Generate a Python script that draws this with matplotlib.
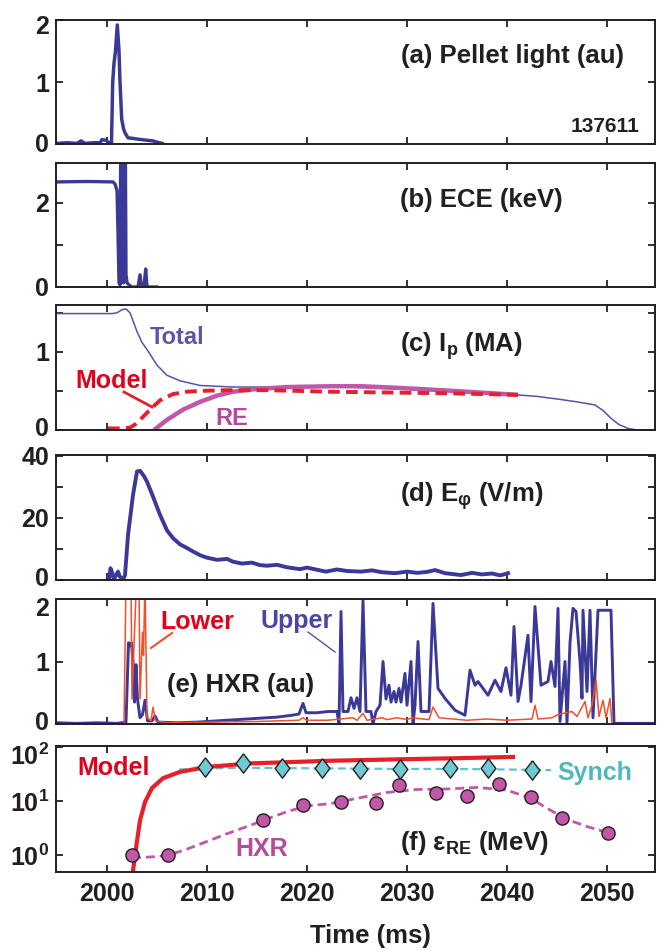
import matplotlib
matplotlib.use('Agg')
import matplotlib.pyplot as plt
from matplotlib.lines import Line2D
from matplotlib.ticker import NullLocator
from matplotlib.transforms import ScaledTranslation

plt.rcParams['font.family'] = ['Liberation Sans', 'DejaVu Sans']
plt.rcParams['font.weight'] = 'bold'
plt.rcParams['mathtext.fontset'] = 'custom'
plt.rcParams['mathtext.rm'] = 'Liberation Sans:bold'
plt.rcParams['mathtext.it'] = 'Liberation Sans:bold'
plt.rcParams['mathtext.bf'] = 'Liberation Sans:bold'
plt.rcParams['mathtext.sf'] = 'Liberation Sans:bold'

# ---------------- data ----------------
x_ticks = [2000, 2010, 2020, 2030, 2040, 2050]
x_tick_labels = ['2000', '2010', '2020', '2030', '2040', '2050']

# (a) pellet light
pellet_t = [1995.0, 1996.0, 1997.0, 1997.4, 1997.8, 1998.6, 1999.3, 1999.5, 1999.9, 2000.2,
            2000.45, 2000.57, 2000.7, 2000.85, 2001.03, 2001.2, 2001.3, 2001.47, 2001.65, 2001.8,
            2002.1, 2002.6, 2003.0, 2003.5, 2004.0, 2004.6, 2005.0, 2005.5]
pellet_v = [0.01, 0.02, 0.01, 0.05, 0.01, 0.02, 0.02, 0.07, 0.06, 0.02,
            0.02, 1.0, 1.3, 1.5, 1.92, 1.5, 1.0, 0.4, 0.25, 0.18,
            0.1, 0.09, 0.08, 0.07, 0.06, 0.05, 0.03, 0.01]

# (b) ECE
ece_t = [1995.0, 1998.0, 2000.6, 2000.8, 2001.0, 2001.1, 2001.2, 2001.3, 2001.37, 2001.42,
         2001.48, 2001.54, 2001.6, 2001.66, 2001.72, 2001.78, 2001.84, 2001.9, 2002.0, 2002.2,
         2002.5, 2003.1, 2003.3, 2003.45, 2003.7, 2003.87, 2004.0, 2004.5, 2005.0]
ece_v = [2.5, 2.51, 2.5, 2.45, 2.3, 1.3, 0.1, 0.05, 3.2, 0.1,
         3.2, 0.15, 3.2, 0.1, 3.2, 0.2, 3.2, 0.3, 0.1, 0.05,
         0.0, 0.0, 0.29, 0.02, 0.0, 0.43, 0.0, 0.0, 0.0]

# (c) plasma current
total_t = [1995.0, 1998.0, 2000.5, 2001.0, 2001.5, 2001.9, 2002.3, 2003.0, 2003.5, 2004.0,
           2005.0, 2006.0, 2007.3, 2009.3, 2012.6, 2016.0, 2022.0, 2026.0, 2030.0, 2034.0,
           2038.0, 2041.0, 2043.0, 2045.4, 2047.0, 2048.8, 2049.6, 2050.4, 2051.2, 2052.1,
           2053.0, 2054.8]
total_v = [1.49, 1.49, 1.49, 1.5, 1.54, 1.55, 1.5, 1.26, 1.12, 1.03,
           0.83, 0.7, 0.63, 0.57, 0.55, 0.55, 0.56, 0.54, 0.52, 0.5,
           0.48, 0.45, 0.43, 0.39, 0.36, 0.32, 0.25, 0.15, 0.07, 0.02,
           0.0, 0.0]
model_c_t = [2000.1, 2001.0, 2002.3, 2002.8, 2003.3, 2004.3, 2005.3, 2006.6, 2008.0, 2009.3,
             2012.0, 2016.0, 2022.3, 2028.0, 2034.0, 2041.1]
model_c_v = [0.02, 0.02, 0.03, 0.07, 0.13, 0.26, 0.38, 0.46, 0.49, 0.5,
             0.51, 0.51, 0.49, 0.48, 0.47, 0.45]
re_t = [2004.7, 2006.0, 2007.6, 2009.3, 2011.0, 2012.6, 2014.6, 2018.0, 2022.3, 2025.5,
        2029.0, 2032.0, 2036.0, 2041.1]
re_v = [0.0, 0.13, 0.26, 0.36, 0.44, 0.49, 0.52, 0.55, 0.56, 0.56,
        0.54, 0.52, 0.49, 0.45]

# (d) toroidal electric field
ephi_t = [2000.2, 2000.35, 2000.5, 2000.7, 2000.9, 2001.1, 2001.3, 2001.6, 2001.8, 2002.1,
          2002.6, 2003.0, 2003.3, 2003.7, 2004.0, 2004.6, 2005.3, 2006.0, 2006.6, 2007.3,
          2008.0, 2008.6, 2009.3, 2010.0, 2011.0, 2012.0, 2012.6, 2013.5, 2014.5, 2015.3,
          2016.0, 2017.0, 2018.0, 2019.3, 2020.0, 2021.0, 2021.9, 2023.0, 2024.0, 2025.4,
          2026.5, 2027.5, 2028.8, 2030.0, 2031.0, 2032.0, 2032.8, 2033.8, 2035.4, 2036.5,
          2037.5, 2038.5, 2039.3, 2039.8, 2040.1]
ephi_v = [0.0, 3.8, 2.5, 0.3, 1.5, 2.7, 1.0, 0.2, 1.5, 14.5,
          27.4, 35.0, 35.2, 33.5, 31.7, 26.9, 21.0, 16.0, 13.5, 11.5,
          10.3, 9.2, 8.0, 7.2, 6.5, 6.8, 5.9, 5.3, 5.6, 4.8,
          4.6, 4.9, 4.1, 3.5, 4.0, 3.3, 2.7, 3.4, 2.9, 2.7,
          3.1, 2.5, 2.2, 2.7, 2.3, 2.6, 3.2, 2.2, 1.6, 2.3,
          1.8, 2.1, 1.5, 1.9, 2.2]

# (e) hard x-rays
upper_t = [1995.0, 1997.0, 1999.0, 2001.0, 2001.9, 2002.15, 2002.3, 2002.45, 2002.6, 2002.75,
           2002.9, 2003.05, 2003.3, 2003.55, 2003.8, 2004.05, 2004.5, 2004.8, 2005.1, 2007.0,
           2009.0, 2011.0, 2013.0, 2015.0, 2017.0, 2018.5, 2019.2, 2019.6, 2019.9, 2021.0,
           2022.1, 2023.0, 2023.2, 2023.4, 2023.6, 2024.1, 2024.4, 2024.7, 2025.0, 2025.3,
           2025.6, 2025.9, 2026.4, 2026.6, 2026.9, 2027.3, 2027.6, 2027.9, 2028.2, 2028.4,
           2028.7, 2028.9, 2029.2, 2029.4, 2029.8, 2030.0, 2030.4, 2030.6, 2030.8, 2031.1,
           2031.4, 2032.2, 2032.6, 2033.1, 2033.8, 2034.8, 2035.8, 2036.3, 2036.8, 2037.1,
           2037.6, 2038.1, 2038.8, 2039.4, 2039.9, 2040.4, 2040.7, 2041.1, 2041.4, 2042.1,
           2042.4, 2042.8, 2043.4, 2044.1, 2044.4, 2044.8, 2045.1, 2045.3, 2045.8, 2046.0,
           2046.3, 2046.6, 2046.9, 2047.3, 2047.5, 2047.6, 2048.0, 2048.3, 2048.6, 2049.1,
           2050.4, 2050.7, 2054.8]
upper_v = [0.02, 0.01, 0.02, 0.01, 0.03, 1.3, 1.25, 1.3, 1.0, 0.35,
           0.95, 0.4, 0.1, 0.15, 0.38, 0.05, 0.05, 0.13, 0.03, 0.02,
           0.03, 0.05, 0.07, 0.09, 0.11, 0.14, 0.16, 0.33, 0.18, 0.18,
           0.2, 0.2, 0.0, 1.8, 0.2, 0.2, 0.42, 0.25, 0.42, 0.2,
           1.98, 0.2, 0.2, 0.0, 0.2, 0.3, 1.0, 0.4, 0.62, 0.35,
           0.52, 0.35, 0.57, 0.35, 0.81, 0.3, 1.0, 0.0, 0.3, 1.32,
           0.2, 0.2, 1.93, 0.57, 0.41, 0.22, 0.14, 0.86, 0.62, 0.68,
           0.57, 0.46, 0.7, 0.52, 0.9, 0.46, 1.56, 0.36, 0.62, 1.42,
           0.36, 1.88, 0.62, 0.68, 1.0, 0.6, 1.85, 0.04, 1.0, 0.02,
           1.3, 1.85, 1.8, 1.0, 0.41, 1.82, 0.52, 1.82, 0.1, 1.82,
           1.82, 0.01, 0.01]
lower_t = [1995.0, 2001.7, 2001.9, 2002.4, 2002.5, 2002.95, 2003.2, 2003.3, 2003.55, 2003.65,
           2003.8, 2004.0, 2004.4, 2004.6, 2004.85, 2006.0, 2010.0, 2015.0, 2019.2, 2019.6,
           2020.0, 2022.1, 2024.6, 2025.0, 2025.6, 2026.0, 2027.5, 2028.0, 2029.0, 2030.0,
           2030.5, 2032.2, 2032.6, 2033.2, 2036.0, 2038.0, 2040.0, 2042.5, 2042.8, 2043.1,
           2044.5, 2045.1, 2046.5, 2047.0, 2047.8, 2048.1, 2048.5, 2048.9, 2049.2, 2049.6,
           2049.9, 2050.3, 2050.5, 2054.8]
lower_v = [0.0, 0.0, 2.3, 2.3, 0.4, 2.3, 2.3, 0.4, 1.47, 1.1,
           2.3, 0.1, 0.05, 0.27, 0.05, 0.02, 0.03, 0.04, 0.06, 0.1,
           0.06, 0.06, 0.1, 0.06, 0.17, 0.06, 0.1, 0.07, 0.1, 0.07,
           0.1, 0.07, 0.27, 0.1, 0.06, 0.08, 0.06, 0.08, 0.3, 0.08,
           0.1, 0.15, 0.2, 0.12, 0.36, 0.1, 0.3, 0.7, 0.12, 0.38,
           0.1, 0.41, 0.0, 0.0]

# (f) runaway electron energy
model_f_t = [2002.4, 2002.6, 2002.97, 2003.3, 2003.8, 2004.5, 2005.6, 2007.3, 2010.0, 2014.3,
             2022.3, 2030.0, 2036.0, 2040.6]
model_f_v = [0.3, 0.52, 1.67, 4.4, 9.7, 17.5, 26.6, 34.9, 43.0, 50.0,
             56.0, 60.0, 63.0, 66.0]
synch_t = [2009.8, 2013.6, 2017.5, 2021.5, 2025.3, 2029.3, 2034.3, 2038.1, 2042.5]
synch_v = [43.0, 50.0, 41.0, 41.0, 39.0, 39.0, 41.0, 41.0, 37.5]
synch_fit_t = [2007.2, 2009.8, 2013.6, 2017.5, 2021.5, 2025.3, 2029.3, 2034.3, 2038.1, 2042.5, 2044.4]
synch_fit_v = [38.6, 40.5, 41.5, 41.0, 40.5, 40.0, 39.5, 39.5, 39.0, 38.0, 37.5]
hxr_t = [2002.5, 2006.1, 2015.6, 2019.6, 2023.4, 2026.9, 2029.2, 2032.9, 2036.0, 2039.2,
         2042.4, 2045.5, 2050.1]
hxr_v = [1.0, 1.0, 4.4, 8.4, 9.7, 9.3, 20.0, 14.0, 12.5, 20.6,
         11.8, 4.8, 2.6]
hxr_fit_t = [2002.5, 2004.0, 2006.0, 2008.0, 2010.0, 2012.0, 2014.0, 2016.0, 2018.0, 2020.0,
             2022.3, 2025.0, 2028.0, 2031.0, 2034.0, 2037.0, 2040.0, 2042.4, 2044.0, 2046.0,
             2048.0, 2050.1]
hxr_fit_v = [0.9, 0.92, 0.98, 1.3, 1.8, 2.5, 3.4, 4.7, 6.4, 8.2,
             9.0, 11.3, 14.5, 16.5, 16.8, 18.0, 16.0, 11.3, 7.4, 4.6,
             3.4, 2.6]

# ---------------- style ----------------
BLUE = '#3b3898'
BLUE_THIN = '#5553a8'
RED = '#e5202a'
RED_TXT = '#e2001a'
ORANGE = '#f0502d'
MAGENTA = '#c257a8'
MAG_TXT = '#b24c9c'
CYAN = '#5ec2cc'
CYAN_FILL = '#6dc9d3'
CYAN_TXT = '#4fb7bf'
TXT = '#231f20'
DIAMOND = [(0, 1), (0.76, 0), (0, -1), (-0.76, 0), (0, 1)]

W, H = 658, 950
fig = plt.figure(figsize=(W / 100, H / 100), dpi=100)


def fx(x):
    return x / W


def fy(y):
    return 1 - y / H


boxes = [(56, 20, 655, 144), (56, 163, 655, 287), (56, 305, 655, 430),
         (56, 455, 655, 580), (56, 599, 655, 724), (56, 746, 655, 872)]
axes = []
for (l, t, r, b) in boxes:
    ax = fig.add_axes([fx(l), fy(b), (r - l) / W, (b - t) / H])
    ax.set_xlim(1994.9, 2054.8)
    ax.set_xticks(x_ticks)
    ax.set_xticklabels(x_tick_labels)
    ax.tick_params(direction='in', top=True, right=True, length=5, width=1.3,
                   labelsize=18, pad=5, colors=TXT)
    ax.tick_params(axis='x', labelbottom=False, pad=7)
    for s in ax.spines.values():
        s.set_linewidth(1.4)
        s.set_color(TXT)
    axes.append(ax)

axa, axb, axc, axd, axe, axf = axes

# (a)
axa.plot(pellet_t, pellet_v, color=BLUE, lw=2.5)
axa.set_ylim(0, 2)
axa.set_yticks([0, 1, 2])
axa.set_yticklabels(['0', '1', '2'])

# (b)
axb.plot(ece_t, ece_v, color=BLUE, lw=2.4)
axb.set_ylim(0, 2.95)
axb.set_yticks([0, 1, 2])
axb.set_yticklabels(['0', '', '2'])

# (c)
axc.plot(total_t, total_v, color=BLUE_THIN, lw=1.1)
axc.plot(re_t, re_v, color=MAGENTA, lw=3.2, solid_capstyle='butt')
axc.plot(model_c_t, model_c_v, color=RED, lw=2.8, ls=(0, (3, 1.6)))
axc.set_ylim(0, 1.6)
axc.set_yticks([0, 0.5, 1, 1.5])
axc.set_yticklabels(['0', '', '1', ''])

# (d)
axd.plot(ephi_t, ephi_v, color=BLUE, lw=2.8)
axd.set_ylim(0, 40.3)
axd.set_yticks([0, 10, 20, 30, 40])
axd.set_yticklabels(['0', '', '20', '', '40'])

# (e)
axe.plot(upper_t, upper_v, color=BLUE, lw=2.1)
axe.plot(lower_t, lower_v, color=ORANGE, lw=1.1)
axe.set_ylim(0, 2)
axe.set_yticks([0, 1, 2])
axe.set_yticklabels(['0', '1', '2'])

# (f)
axf.set_yscale('log')
axf.plot(hxr_fit_t, hxr_fit_v, color=MAGENTA, lw=2.0, ls=(0, (3.2, 1.8)))
axf.plot(synch_fit_t, synch_fit_v, color=CYAN, lw=1.6, ls=(0, (3.5, 2)))
axf.plot(model_f_t, model_f_v, color=RED, lw=3.0)
axf.plot(synch_t, synch_v, ls='none', marker=DIAMOND, ms=14, mfc=CYAN_FILL,
         mec=TXT, mew=1.0)
axf.plot(hxr_t, hxr_v, ls='none', marker='o', ms=9.5, mfc=MAGENTA,
         mec=TXT, mew=1.0)
axf.set_ylim(0.49, 105)
axf.set_yticks([1, 10, 100])
axf.set_yticklabels(['10$^{0}$', '10$^{1}$', '10$^{2}$'])
axf.yaxis.set_minor_locator(NullLocator())
axf.tick_params(axis='x', labelbottom=True)


# nudge the extreme y tick labels as in the reference (pixels, + = down)
def nudge(ax, idx, dy):
    tick = ax.yaxis.get_major_ticks()[idx]
    lab = tick.label1
    lab.set_transform(lab.get_transform() +
                      ScaledTranslation(0, -dy / 100, fig.dpi_scale_trans))


nudge(axa, 2, 5)
nudge(axa, 0, -2)
nudge(axc, 0, -4)
nudge(axd, 0, -4)
nudge(axe, 2, 8)
nudge(axe, 0, -3)
nudge(axf, 2, 7)


# ---------------- texts ----------------
def label(x, y, s, size=18, color=TXT):
    fig.text(fx(x), fy(y), s, ha='left', va='baseline', fontsize=size,
             color=color, fontweight='bold')


label(401, 63, '(a) Pellet light (au)', 18.5)
label(571, 132, '137611', 15)
label(400, 207, '(b) ECE (keV)', 18.5)
label(400, 352, '(c) I$_\\mathrm{p}$ (MA)', 18.5)
label(150, 344, 'Total', 17, '#5a56aa')
label(75, 388, 'Model', 18, RED_TXT)
label(215, 425, 'RE', 17, MAG_TXT)
label(400, 502, '(d) E$_{φ}$ (V/m)', 18.5)
label(160, 629, 'Lower', 18, RED_TXT)
label(260, 628, 'Upper', 18, '#4a46a4')
label(167, 692, '(e) HXR (au)', 18.5)
label(77, 775, 'Model', 18, RED_TXT)
label(235, 856, 'HXR', 18, MAG_TXT)
label(557, 780, 'Synch', 18, CYAN_TXT)
label(400, 850, '(f) ε$_\\mathrm{RE}$ (MeV)', 18.5)
label(310, 943, 'Time (ms)', 18.5)

# pointer lines
for (x0, y0, x1, y1, c, w) in [(124, 392, 152, 407, RED, 2.0),
                                (172, 633, 151, 648, ORANGE, 1.5),
                                (308, 632, 335, 652, BLUE_THIN, 1.0)]:
    fig.add_artist(Line2D([fx(x0), fx(x1)], [fy(y0), fy(y1)], color=c, lw=w,
                          transform=fig.transFigure))

fig.savefig('out.png', dpi=100)
